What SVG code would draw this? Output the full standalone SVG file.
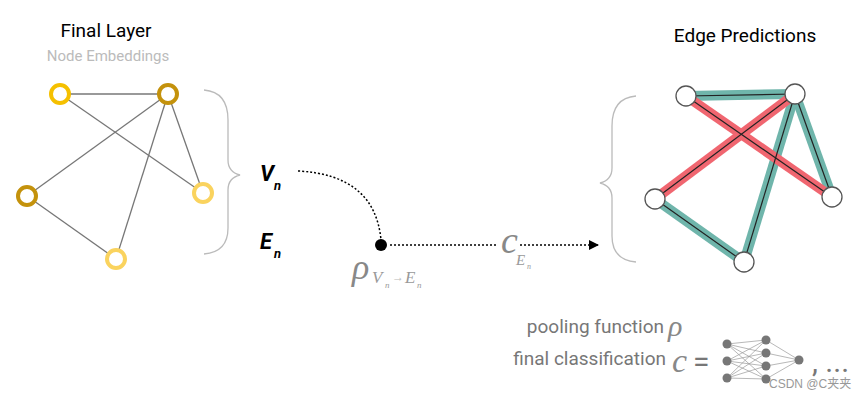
<svg xmlns="http://www.w3.org/2000/svg" width="865" height="400" viewBox="0 0 865 400">
<style>
.t{font-family:Roboto,"Liberation Sans",sans-serif}
.s{font-family:"Liberation Serif",serif;font-style:italic}
.e{stroke:#777;stroke-width:1.3}
.ring{fill:#fff;stroke-width:4}
.pn{fill:#fff;stroke:#555;stroke-width:1.3}
.teal{stroke:#6fb5ab;stroke-width:10}
.red{stroke:#f06670;stroke-width:10}
.core{stroke:#222;stroke-width:1.2}
.brace{fill:none;stroke:#bbb;stroke-width:1.3}
.nn{fill:#777}
.nl{stroke:#999;stroke-width:0.7}
</style>
<defs><marker id="ah" viewBox="0 0 10 10" refX="9" refY="5" markerWidth="10" markerHeight="10" markerUnits="userSpaceOnUse" orient="auto"><path d="M0,0L10,5L0,10Z" fill="#000"/></marker></defs>
<text class="t" x="106" y="37" font-size="19" text-anchor="middle">Final Layer</text>
<text class="t" x="108" y="61" font-size="15" fill="#bbb" text-anchor="middle">Node Embeddings</text>
<text class="t" x="745" y="42" font-size="19" text-anchor="middle">Edge Predictions</text>
<g id="left-edges">
<line class="e" x1="60" y1="94" x2="168" y2="94"/><line class="e" x1="60" y1="94" x2="203" y2="193"/>
<line class="e" x1="168" y1="94" x2="27" y2="196"/><line class="e" x1="168" y1="94" x2="116" y2="259"/>
<line class="e" x1="168" y1="94" x2="203" y2="193"/><line class="e" x1="27" y1="196" x2="116" y2="259"/>
</g>
<g id="left-nodes">
<circle class="ring" cx="60" cy="94" r="9" stroke="#f5c000"/>
<circle class="ring" cx="168" cy="94" r="9" stroke="#c4920c"/>
<circle class="ring" cx="27" cy="196" r="9" stroke="#c4920c"/>
<circle class="ring" cx="203" cy="193" r="9" stroke="#fad35e"/>
<circle class="ring" cx="116" cy="259" r="9" stroke="#fad35e"/>
</g>
<path class="brace" d="M204,90 Q228,92 228,120 L228,160 Q228,172 240,175 Q228,178 228,190 L228,228 Q228,252 204,254"/>
<path class="brace" d="M636,96 Q612,98 612,126 L612,168 Q612,180 600,183 Q612,186 612,198 L612,236 Q612,260 636,262"/>
<g id="labels">
<text class="t" x="260" y="181" font-size="22" font-weight="bold" font-style="italic">V</text>
<text class="t" x="274" y="190" font-size="13" font-weight="bold" font-style="italic">n</text>
<text class="t" x="260" y="249" font-size="22" font-weight="bold" font-style="italic">E</text>
<text class="t" x="274" y="258" font-size="13" font-weight="bold" font-style="italic">n</text>
<text class="s" x="352" y="279" font-size="36" fill="#888">ρ</text>
<text class="s" x="372" y="283" font-size="17" fill="#999">V</text>
<text class="s" x="385" y="288" font-size="9" fill="#999">n</text>
<text x="392" y="281" font-size="12" fill="#bbb" font-family="'Liberation Serif',serif">→</text>
<text class="s" x="405" y="283" font-size="17" fill="#999">E</text>
<text class="s" x="417" y="288" font-size="9" fill="#999">n</text>
<text class="s" x="501" y="253" font-size="38" fill="#888">c</text>
<text class="s" x="516" y="265" font-size="15" fill="#999">E</text>
<text class="s" x="527" y="269" font-size="8" fill="#999">n</text>
</g>
<g id="connectors">
<path d="M298,171 Q375,175 381,240" fill="none" stroke="#000" stroke-width="1.5" stroke-dasharray="2,2"/>
<line x1="390" y1="245" x2="496" y2="245" stroke="#000" stroke-width="1.5" stroke-dasharray="2,2"/>
<line x1="520" y1="245" x2="598" y2="245" stroke="#000" stroke-width="1.5" stroke-dasharray="2,2" marker-end="url(#ah)"/>
</g>
<circle cx="381" cy="245" r="6" fill="#000"/>
<g id="right-edges">
<line class="teal" x1="686" y1="96" x2="795" y2="94"/><line class="teal" x1="795" y1="94" x2="832" y2="197"/>
<line class="teal" x1="795" y1="94" x2="744" y2="262"/><line class="teal" x1="655" y1="199" x2="744" y2="262"/>
<line class="red" x1="686" y1="96" x2="832" y2="197"/><line class="red" x1="795" y1="94" x2="655" y2="199"/>
<line class="core" x1="686" y1="96" x2="795" y2="94"/><line class="core" x1="795" y1="94" x2="832" y2="197"/>
<line class="core" x1="795" y1="94" x2="744" y2="262"/><line class="core" x1="655" y1="199" x2="744" y2="262"/>
<line class="core" x1="686" y1="96" x2="832" y2="197"/><line class="core" x1="795" y1="94" x2="655" y2="199"/>
</g>
<g id="right-nodes">
<circle class="pn" cx="686" cy="96" r="10"/><circle class="pn" cx="795" cy="94" r="10"/>
<circle class="pn" cx="655" cy="199" r="10"/><circle class="pn" cx="832" cy="197" r="10"/>
<circle class="pn" cx="744" cy="262" r="10"/>
</g>
<g id="legend">
<text class="t" x="664" y="333" font-size="19" fill="#777" text-anchor="end">pooling function</text>
<text class="s" x="668" y="336" font-size="30" fill="#888">ρ</text>
<text class="t" x="666" y="365" font-size="19" fill="#777" text-anchor="end">final classification</text>
<text class="s" x="672" y="372" font-size="34" fill="#888">c</text>
<text class="t" x="693" y="372" font-size="30" fill="#777">=</text>
<g>
<path class="nl" d="M727,344L766,340M727,344L766,353M727,344L766,366M727,344L766,379M727,361L766,340M727,361L766,353M727,361L766,366M727,361L766,379M727,378L766,340M727,378L766,353M727,378L766,366M727,378L766,379M766,340L799,360M766,353L799,360M766,366L799,360M766,379L799,360"/>
<circle class="nn" cx="727" cy="344" r="4.5"/><circle class="nn" cx="727" cy="361" r="4.5"/><circle class="nn" cx="727" cy="378" r="4.5"/>
<circle class="nn" cx="766" cy="340" r="4.5"/><circle class="nn" cx="766" cy="353" r="4.5"/><circle class="nn" cx="766" cy="366" r="4.5"/><circle class="nn" cx="766" cy="379" r="4.5"/>
<circle class="nn" cx="799" cy="360" r="4.5"/>
</g>
<text class="t" x="812" y="372" font-size="30" fill="#777">, ...</text>
</g>
<text x="769" y="388" font-size="12" fill="#999" font-family="'Liberation Sans','Noto Sans CJK SC',sans-serif">CSDN @C夹夹</text>
</svg>
